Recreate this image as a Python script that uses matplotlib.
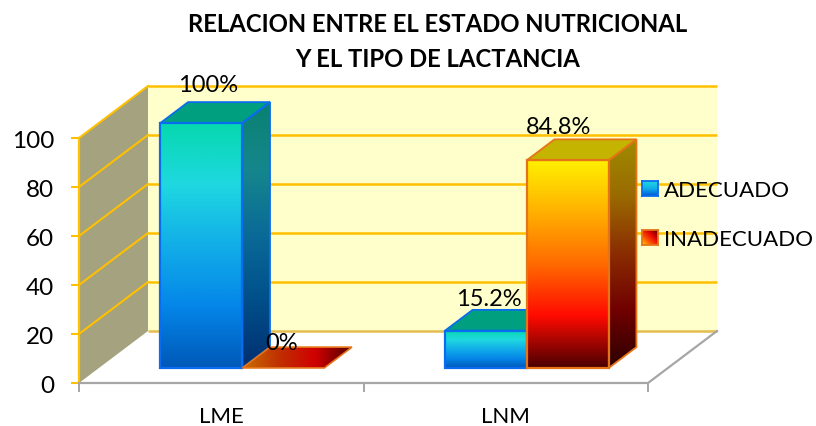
import numpy as np
import matplotlib
matplotlib.use('Agg')
import matplotlib.pyplot as plt
from matplotlib.colors import LinearSegmentedColormap
from matplotlib.patches import Polygon

plt.rcParams['font.family'] = ['Lato', 'DejaVu Sans']

# data
categories = ['LME', 'LNM']
series_names = ['ADECUADO', 'INADECUADO']
adecuado = [100, 15.2]
inadecuado = [0, 84.8]
value_labels = [['100%', '15.2%'], ['0%', '84.8%']]
y_ticks = [0, 20, 40, 60, 80, 100]

# pixel scale of the 3d box
W, H = 816, 427
px_x = 284.5    # pixels per category
px_y = 2.45     # pixels per 100th of the y axis
x0_px, y0_px = 79, 384
depth_x = 69 / px_x
depth_y = 52 / px_y

blue_stops = ['#05d8ae', '#1fd8e0', '#12aee8', '#0486e8', '#0058b8']
red_stops = ['#fff000', '#ffb000', '#ff6a00', '#ff0a00', '#4a0000']
blue_side = ['#0a8070', '#15878c', '#0a6a98', '#004f8a', '#002f70']
red_side = ['#a08c00', '#9a6a00', '#8a2c00', '#700000', '#2c0000']

fig = plt.figure(figsize=(W / 100, H / 100), dpi=100)
ax = fig.add_axes([0, 0, 1, 1])
xlim = (-x0_px / px_x, (W - x0_px) / px_x)
ylim = (-(H - y0_px) / px_y, y0_px / px_y)
ax.axis('off')


def d(x, y, t=0.0):
    # project x, value and depth (0 front, 1 back) on the axes
    return (x + t * depth_x, y + t * depth_y)


def grad_poly(pts, stops, z, horizontal=False):
    pts = np.array(pts)
    cmap = LinearSegmentedColormap.from_list('g', stops)
    g = np.linspace(0, 1, 256)
    g = g[None, :] if horizontal else g[:, None]
    ext = [pts[:, 0].min(), pts[:, 0].max(), pts[:, 1].min(), pts[:, 1].max()]
    im = ax.imshow(g, cmap=cmap, extent=ext, aspect='auto', origin='upper', zorder=z, interpolation='bilinear')
    im.set_clip_path(Polygon(pts, transform=ax.transData))


# walls and floor
ax.add_patch(Polygon([d(0, 0, 1), d(2, 0, 1), d(2, 100, 1), d(0, 100, 1)], fc='#ffffcc', ec='none', zorder=1))
ax.add_patch(Polygon([d(0, 0), d(0, 0, 1), d(0, 100, 1), d(0, 100)], fc='#a5a27f', ec='none', zorder=1))

for v in y_ticks:
    col = '#e3bd50' if v == 0 else '#ffc000'
    ax.plot(*zip(d(0, v, 1), d(2, v, 1)), color=col, lw=1.8, zorder=2, solid_capstyle='butt')
    if v > 0:
        ax.plot(*zip(d(0, v), d(0, v, 1)), color='#ffc000', lw=1.5, zorder=2)
    ax.plot([-8 / px_x, 0], [v, v], color='#ffc000', lw=1.5, zorder=3, solid_capstyle='butt')
    ax.text(-25 / px_x, v - 3 / px_y, str(v), ha='right', va='center', fontsize=17.5, color='black')
ax.plot([0, 0], [0, 100], color='#ffc000', lw=1.6, zorder=3)

ax.plot(*zip(d(0, 0), d(2, 0), d(2, 0, 1)), color='#a6a6a6', lw=1.6, zorder=3)
for i in range(3):
    ax.plot([i, i], [0, -9 / px_y], color='#a6a6a6', lw=1.4, zorder=3, solid_capstyle='butt')
for i, c in enumerate(categories):
    ax.text(i + 0.5, -33 / px_y, c, ha='center', va='center', fontsize=16)

# bars, drawn back to front
bar_w = 0.288
left = 0.216
t0, t1 = 0.29, 0.69
series = [(adecuado, blue_stops, blue_side, '#009f80', '#0a6cf0'),
          (inadecuado, red_stops, red_side, '#c4b400', '#e57418')]
label_off = [[(7, 38), (3, 32)], [(-2, 25), (-9, 34)]]

z = 5
for i in range(len(categories)):
    for s, (vals, stops, side, top, edge) in enumerate(series):
        v = vals[i]
        xa = i + left + s * bar_w
        xb = xa + bar_w
        if v > 0:
            grad_poly([d(xa, 0, t0), d(xb, 0, t0), d(xb, v, t0), d(xa, v, t0)], stops, z)
            grad_poly([d(xb, 0, t0), d(xb, 0, t1), d(xb, v, t1), d(xb, v, t0)], side, z)
            ax.add_patch(Polygon([d(xa, v, t0), d(xb, v, t0), d(xb, v, t1), d(xa, v, t1)], fc=top, ec=edge, lw=1.3, zorder=z + 0.5))
            ax.add_patch(Polygon([d(xa, 0, t0), d(xb, 0, t0), d(xb, v, t0), d(xa, v, t0)], fc='none', ec=edge, lw=1.6, zorder=z + 0.5))
            ax.add_patch(Polygon([d(xb, 0, t0), d(xb, 0, t1), d(xb, v, t1), d(xb, v, t0)], fc='none', ec=edge, lw=1.3, zorder=z + 0.5))
        else:
            pts = [d(xa, 0, t0), d(xb, 0, t0), d(xb, 0, t1), d(xa, 0, t1)]
            grad_poly(pts, ['#c87000', '#c03000', '#d00000', '#500000'], z, horizontal=True)
            ax.add_patch(Polygon(pts, fc='none', ec=edge, lw=1.2, zorder=z + 0.5))
        z += 1

# value labels go on top of the bars
for s, (vals, *_rest) in enumerate(series):
    for i, v in enumerate(vals):
        xc = i + left + (s + 0.5) * bar_w
        ax.annotate(value_labels[s][i], xy=d(xc, v, t0), xytext=label_off[s][i], textcoords='offset pixels',
                    ha='center', va='center', fontsize=17, zorder=20)

ax.set_xlim(xlim)
ax.set_ylim(ylim)

# title
fig.text(438 / W, 1 - 25 / H, 'RELACION ENTRE EL ESTADO NUTRICIONAL', ha='center', va='center', fontsize=17.2, fontweight='bold')
fig.text(438 / W, 1 - 60 / H, 'Y EL TIPO DE LACTANCIA', ha='center', va='center', fontsize=17.2, fontweight='bold')

# legend
blue_cmap = LinearSegmentedColormap.from_list('b', ['#1fd8e0', '#12aee8', '#0058d8'])
red_cmap = LinearSegmentedColormap.from_list('r', ['#ffd000', '#ff5000', '#e00000', '#500000'])
yy, xx = np.mgrid[0:1:32j, 0:1:32j]
swatches = [(182, yy, blue_cmap, '#0a6cf0'), (231, (xx + yy) / 2, red_cmap, '#e57418')]
for (top_px, arr, cmap, edge), name in zip(swatches, series_names):
    sw = fig.add_axes([642 / W, 1 - (top_px + 15) / H, 16 / W, 15 / H])
    sw.imshow(arr, cmap=cmap, aspect='auto', origin='upper' if cmap is blue_cmap else 'lower')
    sw.set_xticks([])
    sw.set_yticks([])
    for sp in sw.spines.values():
        sp.set_color(edge)
        sp.set_linewidth(1.3)
    fig.text(664 / W, 1 - (top_px + 9.5) / H, name, ha='left', va='center', fontsize=16, zorder=20)

fig.savefig('out.png', dpi=100)
